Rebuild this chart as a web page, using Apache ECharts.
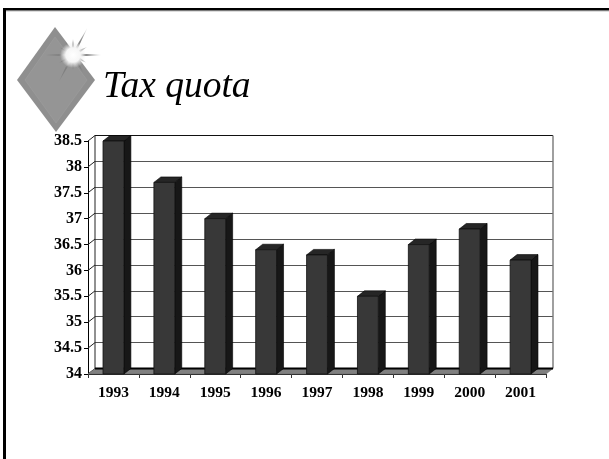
<!DOCTYPE html>
<html><head><meta charset="utf-8">
<style>html,body{margin:0;padding:0;background:#fff}#c{width:609px;height:459px}</style>
<script src="https://cdn.jsdelivr.net/npm/echarts@6/dist/echarts.min.js"></script>
</head><body><div id="c"></div>
<script>
const years = ['1993','1994','1995','1996','1997','1998','1999','2000','2001'];
const taxQuota = [38.5,37.7,37,36.4,36.3,35.5,36.5,36.8,36.2];
const yMin = 34, yMax = 38.5, yStep = 0.5;
const yTicks = [34,34.5,35,35.5,36,36.5,37,37.5,38,38.5];
const titleText = 'Tax quota';

const DX = 7, DY = 5.5;
const font = 'Liberation Serif, Times New Roman, serif';
const chart = echarts.init(document.getElementById('c'), null, {renderer:'canvas'});

function poly(pts, fill, stroke, lw){
  return {type:'polygon', shape:{points:pts}, style:{fill, stroke:stroke||fill, lineWidth:lw===undefined?0.5:lw}};
}
function ln(x1,y1,x2,y2,stroke,lw){
  return {type:'line', shape:{x1,y1,x2,y2}, style:{stroke, lineWidth:lw||1}};
}
function star(cx,cy,rays){
  return rays.map(([ang,len,w])=>{
    const a=ang*Math.PI/180, px=Math.cos(a+Math.PI/2)*w, py=Math.sin(a+Math.PI/2)*w;
    return {type:'polygon', z:5, shape:{points:[[cx+px,cy+py],[cx+Math.cos(a)*len,cy+Math.sin(a)*len],[cx-px,cy-py]]},
      style:{fill:new echarts.graphic.LinearGradient(0.5-Math.cos(a)/2,0.5-Math.sin(a)/2,0.5+Math.cos(a)/2,0.5+Math.sin(a)/2,
        [{offset:0,color:'#f4f4f4'},{offset:0.5,color:'#808080'},{offset:1,color:'rgba(110,110,110,0.35)'}])}};
  });
}

chart.setOption({
  animation:false,
  backgroundColor:'#fff',
  grid:[
    {left:88, top:141, width:458, height:233},
    {left:88+DX, top:141-DY, width:458, height:233}
  ],
  xAxis:[
    {gridIndex:0, type:'category', data:years, boundaryGap:true,
     axisLine:{show:true, lineStyle:{color:'#222', width:1}},
     axisTick:{show:true, alignWithLabel:false, length:4, lineStyle:{color:'#333'}},
     axisLabel:{color:'#000', fontFamily:font, fontWeight:'bold', fontSize:15.5, margin:11},
     splitLine:{show:false}},
    {gridIndex:1, type:'category', data:years, show:false}
  ],
  yAxis:[
    {gridIndex:0, type:'value', min:yMin, max:yMax, interval:yStep,
     axisLine:{show:true, lineStyle:{color:'#000', width:1}},
     axisTick:{show:true, length:4, lineStyle:{color:'#000'}},
     axisLabel:{color:'#000', fontFamily:font, fontWeight:'bold', fontSize:16, margin:6,
       formatter:v=>String(v)},
     splitLine:{show:false}},
    {gridIndex:1, type:'value', min:yMin, max:yMax, interval:yStep,
     axisLine:{show:false}, axisTick:{show:false}, axisLabel:{show:false},
     splitLine:{show:true, lineStyle:{color:'#555', width:1.2}}}
  ],
  series:[
    { // walls and floor, placed from the plot rectangle and the y scale
      type:'custom', xAxisIndex:0, yAxisIndex:0, z:2, silent:true,
      data:[0],
      renderItem(params, api){
        const c = params.coordSys, x0=c.x, x1=c.x+c.width, y0=c.y, y1=c.y+c.height;
        const kids = [];
        yTicks.forEach(t=>{
          const p = api.coord([0,t]);
          kids.push(ln(x0,p[1],x0+DX,p[1]-DY,'#222',1));
        });
        kids.push(ln(x0+DX,y0-DY,x0+DX,y1-DY,'#222',1));
        kids.push(ln(x0+DX,y0-DY,x1+DX,y0-DY,'#111',1.2));
        kids.push(ln(x1+DX,y0-DY,x1+DX,y1-DY,'#777',1.4));
        kids.push(poly([[x0,y1],[x0+DX,y1-DY],[x1+DX,y1-DY],[x1,y1]],'#808080','#666',0.5));
        kids.push(ln(x0+DX,y1-DY,x1+DX,y1-DY,'#000',2));
        return {type:'group', children:kids};
      }
    },
    { // 3D columns
      type:'custom', xAxisIndex:0, yAxisIndex:0, z:3, silent:true,
      encode:{x:0,y:1},
      data:years.map((y,i)=>[i,taxQuota[i]]),
      renderItem(params, api){
        const top = api.coord([api.value(0),api.value(1)]);
        const bot = api.coord([api.value(0),yMin]);
        const w = api.size([1,0])[0]*0.41;
        const l = top[0]-w/2, r = top[0]+w/2, t=top[1], b=bot[1];
        return {type:'group', children:[
          poly([[r,t],[r+DX,t-DY],[r+DX,b-DY],[r,b]],'#171717','#000',0.6),
          poly([[l,t],[l+DX,t-DY],[r+DX,t-DY],[r,t]],'#262626','#000',0.6),
          poly([[l,t],[r,t],[r,b],[l,b]],'#383838','#111',0.8)
        ]};
      }
    },
    { // keeps the back wall's grid alive
      type:'line', xAxisIndex:1, yAxisIndex:1, data:[], silent:true
    }
  ],
  graphic:[
    {type:'rect', shape:{x:3,y:8,width:3,height:451}, style:{fill:'#000'}},
    {type:'rect', shape:{x:3,y:8,width:606,height:2.5}, style:{fill:'#000'}},
    {type:'rect', shape:{x:6,y:10.5,width:603,height:0.8}, style:{fill:'#777'}},
    {type:'polygon', z:4, shape:{points:[[55,27],[17,80],[56,132],[95,80]]}, style:{fill:'#8f8f8f'}},
    {type:'polygon', z:4, shape:{points:[[55,37],[25,80],[56,123],[87,80]]}, style:{fill:'#959595', stroke:'#a0a0a0', lineWidth:0.5}},
    ...star(73,55,[[0,28,1.8],[180,28,1.8],[-62,30,1.6],[118,30,1.6],[-90,16,2.2],[90,15,2.2],[-30,16,2.2],[150,16,2.2],[30,15,2.2],[-150,15,2.2],[60,20,1.8],[-120,16,1.8]]),
    {type:'circle', z:6, shape:{cx:73,cy:55,r:13},
     style:{fill:new echarts.graphic.RadialGradient(0.5,0.5,0.5,[{offset:0,color:'#fff'},{offset:0.55,color:'#f6f6f6'},{offset:1,color:'rgba(235,235,235,0)'}])}},
    {type:'text', z:7, x:103, y:87, style:{text:titleText, fontFamily:font, fontStyle:'italic', fontSize:37.5, fill:'#000', verticalAlign:'middle'}}
  ]
});
</script></body></html>
